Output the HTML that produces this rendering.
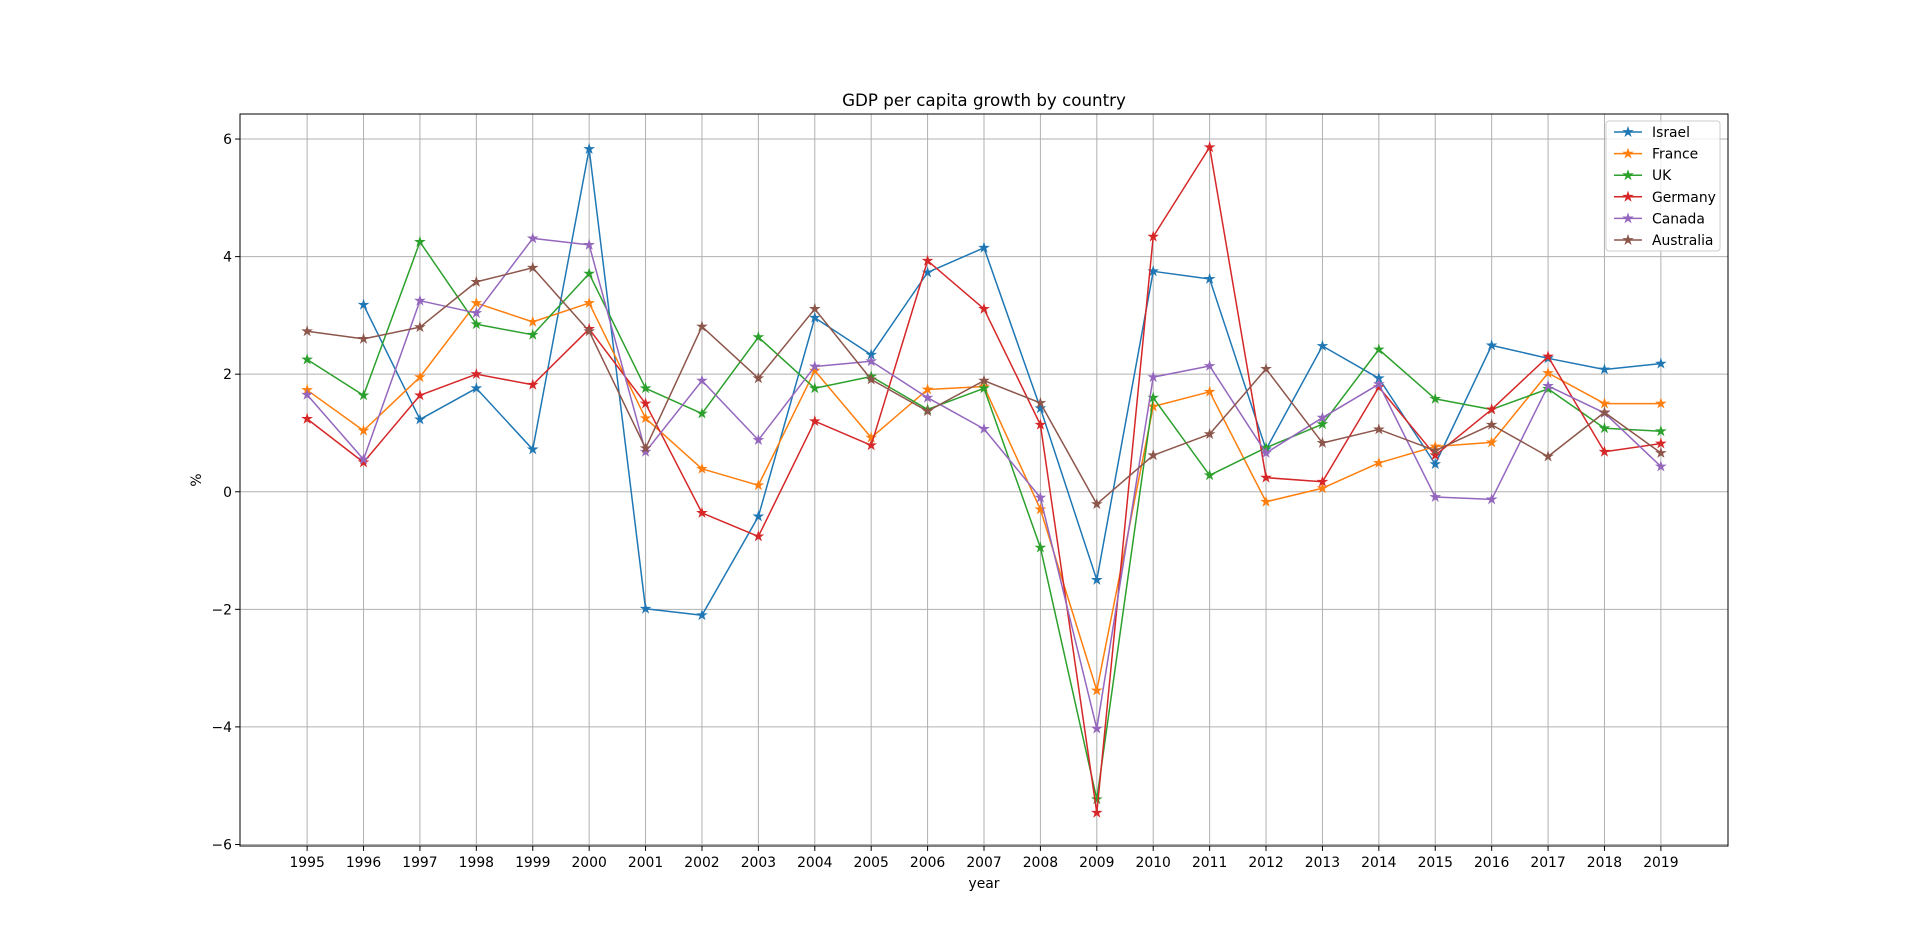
<!DOCTYPE html>
<html><head><meta charset="utf-8"><style>
html,body{margin:0;padding:0;background:#fff;}
svg{display:block;font-family:"DejaVu Sans","Liberation Sans",sans-serif;}
</style></head><body>
<svg id="chart" width="1920" height="951" viewBox="0 0 1920 951" xmlns="http://www.w3.org/2000/svg">
<rect width="1920" height="951" fill="#fff"/>
<text x="984" y="106" font-size="16.7" text-anchor="middle">GDP per capita growth by country</text>
<g id="grid"></g><g id="series"></g><g id="axes"></g><g id="legend"></g>
<text x="984" y="888" font-size="13.9" text-anchor="middle">year</text>
<text transform="translate(201,480) rotate(-90)" font-size="13.9" text-anchor="middle">%</text>
</svg>
<script>
const years = ["1995","1996","1997","1998","1999","2000","2001","2002","2003","2004","2005","2006","2007","2008","2009","2010","2011","2012","2013","2014","2015","2016","2017","2018","2019"];
const israel = [null,3.18,1.23,1.76,0.72,5.83,-1.99,-2.10,-0.42,2.96,2.33,3.73,4.15,1.42,-1.50,3.75,3.62,0.72,2.48,1.93,0.47,2.49,2.27,2.08,2.18];
const france = [1.73,1.04,1.95,3.21,2.89,3.21,1.25,0.39,0.11,2.06,0.92,1.74,1.79,-0.30,-3.38,1.45,1.70,-0.17,0.06,0.49,0.77,0.84,2.02,1.50,1.50];
const uk = [2.25,1.64,4.25,2.85,2.67,3.71,1.76,1.33,2.63,1.76,1.96,1.40,1.76,-0.95,-5.23,1.60,0.28,0.75,1.15,2.42,1.58,1.40,1.75,1.08,1.03];
const germany = [1.24,0.50,1.64,2.00,1.82,2.77,1.50,-0.36,-0.76,1.20,0.79,3.93,3.11,1.14,-5.46,4.34,5.86,0.24,0.17,1.78,0.62,1.40,2.30,0.68,0.82];
const canada = [1.65,0.55,3.25,3.04,4.31,4.20,0.68,1.89,0.88,2.13,2.22,1.60,1.07,-0.10,-4.03,1.95,2.14,0.66,1.26,1.83,-0.09,-0.13,1.80,1.34,0.43];
const australia = [2.73,2.60,2.80,3.57,3.81,2.73,0.74,2.81,1.93,3.11,1.91,1.37,1.89,1.51,-0.21,0.62,0.98,2.09,0.83,1.06,0.70,1.14,0.60,1.35,0.66];
const seriesNames = ["Israel","France","UK","Germany","Canada","Australia"];
const yTicks = [-6,-4,-2,0,2,4,6];

const NS="http://www.w3.org/2000/svg";
const L=240,R=1728,T=114,B=846;
const allSeries=[israel,france,uk,germany,canada,australia];
const colors=["#1f77b4","#ff7f0e","#2ca02c","#d62728","#9467bd","#8c564b"];
let vals=[];allSeries.forEach(s=>s.forEach(v=>{if(v!==null)vals.push(v);}));
let dmin=Math.min(...vals),dmax=Math.max(...vals),rg=dmax-dmin;
const ymin=dmin-0.05*rg,ymax=dmax+0.05*rg;
const xmin=-1.19,xmax=years.length-1+1.19;
const xs=i=>L+(i-xmin)/(xmax-xmin)*(R-L);
const ys=v=>B-(v-ymin)/(ymax-ymin)*(B-T);
function mk(tag,attrs,parent){const e=document.createElementNS(NS,tag);for(const k in attrs)e.setAttribute(k,attrs[k]);parent.appendChild(e);return e;}
const grid=document.getElementById('grid'),axes=document.getElementById('axes'),ser=document.getElementById('series'),leg=document.getElementById('legend');
function star(cx,cy,r){let p=[];for(let k=0;k<10;k++){const a=-Math.PI/2+k*Math.PI/5;const rr=k%2?r*0.38:r;p.push((cx+rr*Math.cos(a)).toFixed(2)+","+(cy+rr*Math.sin(a)).toFixed(2));}return p.join(" ");}
years.forEach((y,i)=>{
  const x=xs(i);
  const g=mk('line',{x1:x,x2:x,y1:T,y2:B,stroke:'#b0b0b0','stroke-width':1},grid);
  
  const t=mk('line',{x1:x,x2:x,y1:B,y2:B+4.9,stroke:'#000','stroke-width':1},axes);
  
  const tx=mk('text',{x:x,y:B+21,'font-size':13.9,'text-anchor':'middle'},axes);tx.textContent=y;
  
});
yTicks.forEach(v=>{
  const y=ys(v);
  const g=mk('line',{x1:L,x2:R,y1:y,y2:y,stroke:'#b0b0b0','stroke-width':1},grid);
  
  const t=mk('line',{x1:L-4.9,x2:L,y1:y,y2:y,stroke:'#000','stroke-width':1},axes);
  
  const tx=mk('text',{x:L-8,y:y+5,'font-size':13.9,'text-anchor':'end'},axes);tx.textContent=(v<0?'\u2212':'')+Math.abs(v);
  
});
const frame=mk('rect',{x:L,y:T,width:R-L,height:B-T,fill:'none',stroke:'#000','stroke-width':1},axes);

allSeries.forEach((s,si)=>{
  const g=mk('g',{},ser);
  
  
  let pts=[];s.forEach((v,i)=>{if(v!==null)pts.push(xs(i).toFixed(2)+','+ys(v).toFixed(2));});
  const pl=mk('polyline',{points:pts.join(' '),fill:'none',stroke:colors[si],'stroke-width':1.5,'stroke-linejoin':'round'},g);
  
  
  s.forEach((v,i)=>{if(v===null)return;
    const m=mk('polygon',{points:star(xs(i),ys(v),4.5),fill:colors[si],stroke:colors[si],'stroke-width':1},g);
    
    
  });
});
const lb=mk('rect',{x:1606,y:121,width:114,height:130,rx:3,fill:'#fff','fill-opacity':0.8,stroke:'#ccc','stroke-width':1},leg);

seriesNames.forEach((n,i)=>{
  const y=132+i*21.6;
  const g=mk('g',{},leg);
  
  
  mk('line',{x1:1614,x2:1642,y1:y,y2:y,stroke:colors[i],'stroke-width':1.5},g);
  mk('polygon',{points:star(1628,y,4.5),fill:colors[i],stroke:colors[i]},g);
  const t=mk('text',{x:1652,y:y+5,'font-size':13.9},g);t.textContent=n;
});
</script>
</body></html>
